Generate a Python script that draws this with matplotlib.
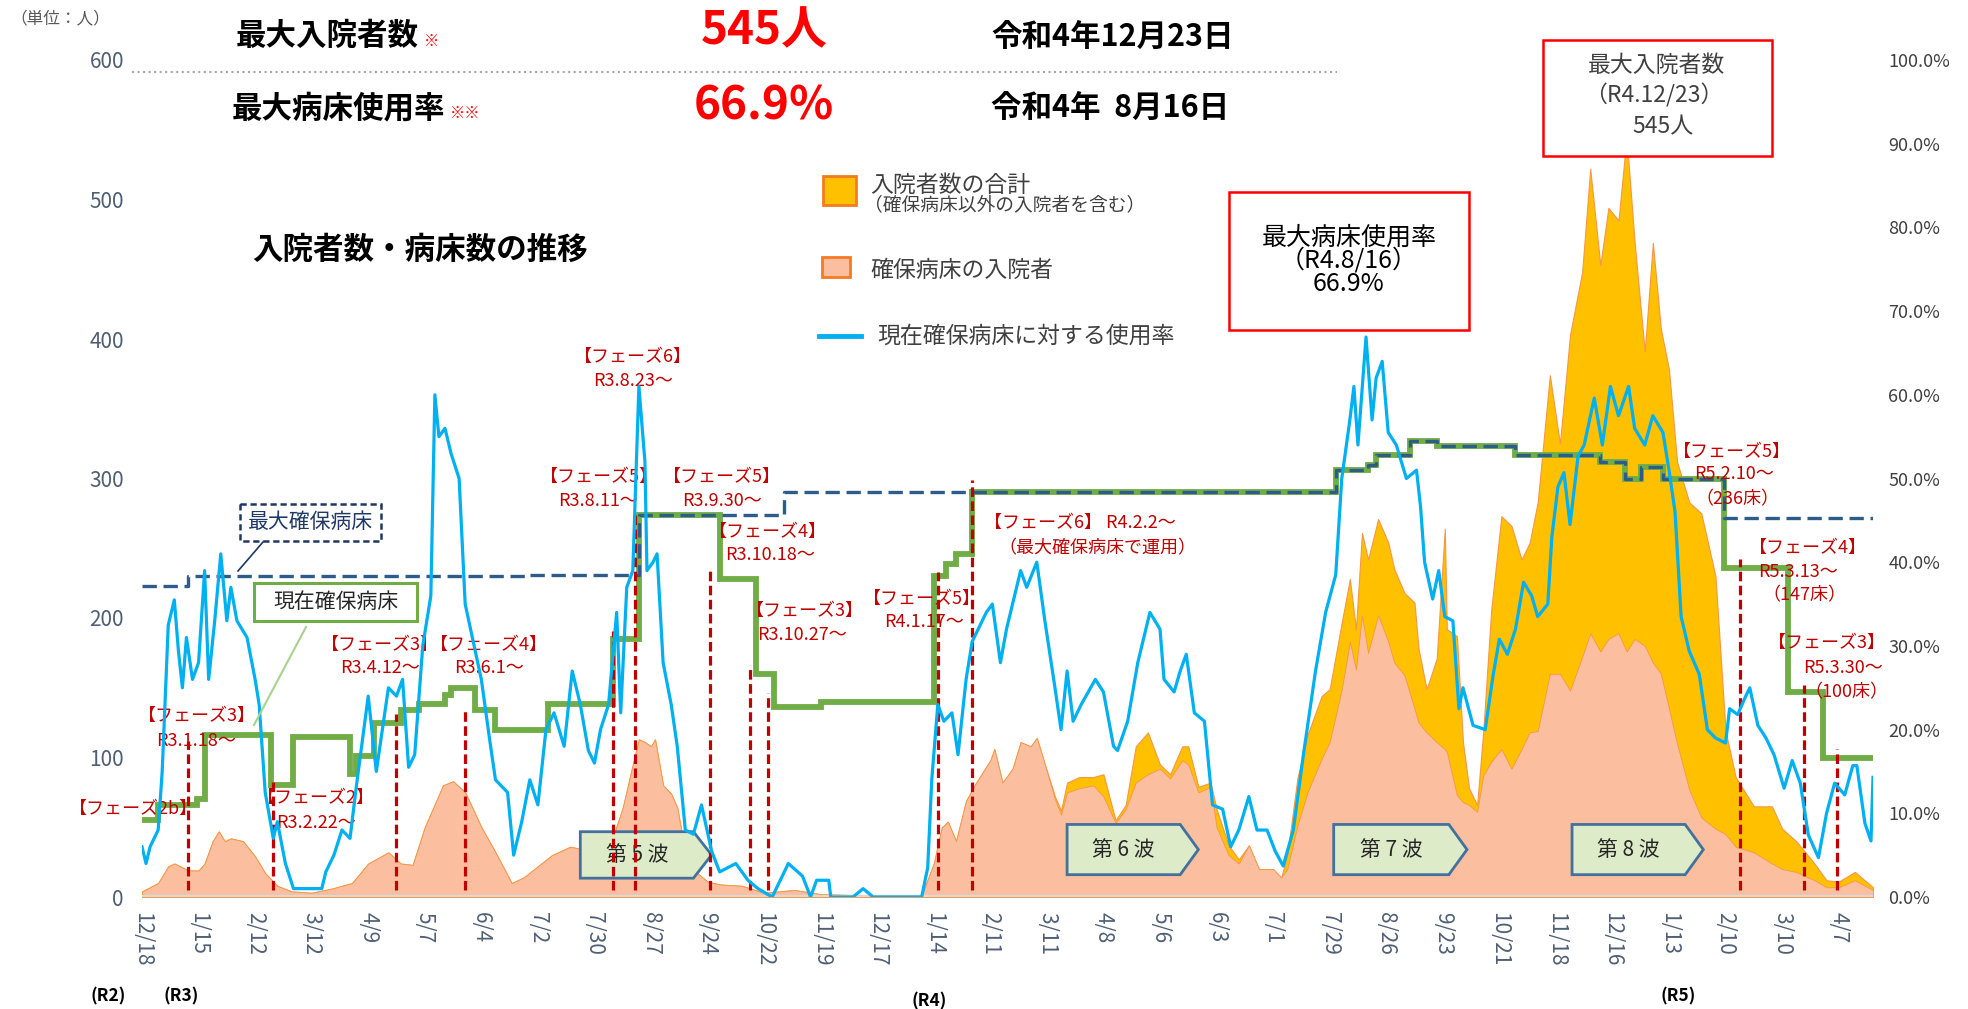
import matplotlib
matplotlib.use("Agg")
import matplotlib.pyplot as plt
import matplotlib.dates as mdates
from matplotlib.patches import Polygon, Rectangle
import pandas as pd

plt.rcParams["font.family"] = ["Noto Sans CJK JP", "DejaVu Sans"]

# ---------------- data ----------------
# inpatients (secured beds) and total inpatients, persons
area_dates = [
    "2020-12-18", "2020-12-26", "2020-12-31", "2021-01-03", "2021-01-10", "2021-01-15",
    "2021-01-18", "2021-01-22", "2021-01-25", "2021-01-28", "2021-01-31", "2021-02-06",
    "2021-02-12", "2021-02-17", "2021-02-23", "2021-03-02", "2021-03-12", "2021-03-22",
    "2021-04-01", "2021-04-09", "2021-04-19", "2021-04-25", "2021-05-01", "2021-05-07",
    "2021-05-16", "2021-05-21", "2021-05-27", "2021-06-04", "2021-06-11", "2021-06-19",
    "2021-06-25", "2021-07-02", "2021-07-09", "2021-07-18", "2021-07-25", "2021-07-30",
    "2021-08-08", "2021-08-13", "2021-08-18", "2021-08-21", "2021-08-24", "2021-08-27",
    "2021-08-29", "2021-09-02", "2021-09-06", "2021-09-09", "2021-09-14", "2021-09-24",
    "2021-09-30", "2021-10-11", "2021-10-22", "2021-11-06", "2021-11-19", "2021-12-17",
    "2022-01-08", "2022-01-14", "2022-01-18", "2022-01-21", "2022-01-25", "2022-01-30",
    "2022-02-04", "2022-02-11", "2022-02-13", "2022-02-17", "2022-02-22", "2022-02-26",
    "2022-03-03", "2022-03-06", "2022-03-10", "2022-03-15", "2022-03-18", "2022-03-21",
    "2022-03-27", "2022-04-03", "2022-04-08", "2022-04-14", "2022-04-19", "2022-04-24",
    "2022-04-30", "2022-05-06", "2022-05-11", "2022-05-17", "2022-05-20", "2022-05-25",
    "2022-05-31", "2022-06-03", "2022-06-09", "2022-06-14", "2022-06-19", "2022-06-24",
    "2022-07-01", "2022-07-05", "2022-07-08", "2022-07-13", "2022-07-18", "2022-07-25",
    "2022-07-29", "2022-08-04", "2022-08-08", "2022-08-11", "2022-08-14", "2022-08-17",
    "2022-08-22", "2022-08-27", "2022-08-30", "2022-09-04", "2022-09-09", "2022-09-11",
    "2022-09-15", "2022-09-20", "2022-09-24", "2022-09-25", "2022-09-30", "2022-10-03",
    "2022-10-06", "2022-10-10", "2022-10-13", "2022-10-17", "2022-10-22", "2022-10-27",
    "2022-11-01", "2022-11-05", "2022-11-09", "2022-11-15", "2022-11-20", "2022-11-25",
    "2022-12-01", "2022-12-05", "2022-12-10", "2022-12-14", "2022-12-19", "2022-12-23",
    "2022-12-27", "2023-01-01", "2023-01-05", "2023-01-09", "2023-01-13", "2023-01-17",
    "2023-01-23", "2023-01-29", "2023-02-05", "2023-02-10", "2023-02-15", "2023-02-24",
    "2023-03-05", "2023-03-10", "2023-03-17", "2023-03-26", "2023-04-01", "2023-04-07",
    "2023-04-15", "2023-04-24",
]
secured = [
    4, 10, 22, 24, 19, 19,
    24, 40, 47, 40, 42, 40,
    29, 17, 8, 4, 3, 6,
    10, 24, 32, 24, 23, 50,
    80, 83, 75, 50, 32, 10,
    14, 22, 30, 36, 34, 33,
    42, 64, 95, 113, 111, 108,
    113, 80, 74, 64, 23, 11,
    9, 8, 3, 5, 2, 1,
    1, 24, 50, 54, 40, 69,
    82, 98, 106, 82, 92, 111,
    108, 114, 95, 70, 59, 75,
    78, 80, 72, 53, 63, 82,
    88, 92, 85, 98, 95, 75,
    79, 50, 30, 24, 37, 20,
    20, 14, 20, 51, 75, 99,
    111, 149, 183, 163, 202, 175,
    202, 183, 168, 159, 135, 125,
    118, 111, 106, 104, 73, 68,
    66, 61, 87, 97, 106, 92,
    106, 118, 119, 160, 160, 148,
    172, 189, 176, 185, 189, 176,
    185, 180, 168, 160, 135, 110,
    77, 57, 49, 45, 36, 32,
    24, 20, 18, 12, 7, 7,
    12, 5,
]
total = [
    4, 10, 22, 24, 19, 19,
    24, 40, 47, 40, 42, 40,
    29, 17, 8, 4, 3, 6,
    10, 24, 32, 24, 23, 50,
    80, 83, 75, 50, 32, 10,
    14, 22, 30, 36, 34, 33,
    42, 64, 95, 113, 111, 108,
    113, 80, 74, 64, 23, 11,
    9, 8, 3, 5, 2, 1,
    1, 24, 50, 54, 40, 69,
    82, 98, 106, 82, 92, 111,
    108, 114, 95, 72, 62, 82,
    86, 86, 88, 55, 66, 108,
    118, 95, 88, 108, 108, 79,
    82, 63, 37, 27, 37, 20,
    20, 14, 30, 85, 116, 144,
    149, 197, 228, 192, 261, 242,
    271, 254, 235, 218, 211, 178,
    149, 171, 264, 192, 187, 111,
    78, 66, 118, 206, 273, 266,
    242, 254, 283, 374, 325, 403,
    448, 522, 453, 494, 485, 545,
    469, 391, 469, 407, 378, 312,
    283, 275, 230, 119, 86, 65,
    65, 49, 40, 24, 12, 11,
    18, 7,
]

# usage rate of current secured beds, %
rate_dates = [
    "2020-12-18", "2020-12-20", "2020-12-22", "2020-12-26", "2020-12-28", "2020-12-31",
    "2021-01-03", "2021-01-05", "2021-01-07", "2021-01-09", "2021-01-12", "2021-01-15",
    "2021-01-18", "2021-01-20", "2021-01-23", "2021-01-26", "2021-01-29", "2021-01-31",
    "2021-02-03", "2021-02-08", "2021-02-12", "2021-02-14", "2021-02-17", "2021-02-21",
    "2021-02-23", "2021-02-27", "2021-03-03", "2021-03-17", "2021-03-19", "2021-03-23",
    "2021-03-27", "2021-03-31", "2021-04-03", "2021-04-09", "2021-04-13", "2021-04-19",
    "2021-04-23", "2021-04-26", "2021-04-29", "2021-05-02", "2021-05-06", "2021-05-10",
    "2021-05-12", "2021-05-14", "2021-05-17", "2021-05-20", "2021-05-24", "2021-05-27",
    "2021-06-04", "2021-06-08", "2021-06-11", "2021-06-17", "2021-06-20", "2021-06-24",
    "2021-06-28", "2021-07-02", "2021-07-06", "2021-07-10", "2021-07-15", "2021-07-19",
    "2021-07-23", "2021-07-27", "2021-07-30", "2021-08-02", "2021-08-06", "2021-08-10",
    "2021-08-12", "2021-08-15", "2021-08-18", "2021-08-21", "2021-08-24", "2021-08-25",
    "2021-08-28", "2021-08-30", "2021-09-02", "2021-09-06", "2021-09-09", "2021-09-13",
    "2021-09-17", "2021-09-21", "2021-09-26", "2021-09-30", "2021-10-08", "2021-10-14",
    "2021-10-19", "2021-10-26", "2021-11-03", "2021-11-10", "2021-11-14", "2021-11-17",
    "2021-11-23", "2021-11-24", "2021-12-05", "2021-12-10", "2021-12-15", "2022-01-08",
    "2022-01-11", "2022-01-13", "2022-01-16", "2022-01-19", "2022-01-23", "2022-01-26",
    "2022-01-30", "2022-02-02", "2022-02-05", "2022-02-09", "2022-02-12", "2022-02-16",
    "2022-02-19", "2022-02-26", "2022-03-01", "2022-03-06", "2022-03-10", "2022-03-15",
    "2022-03-18", "2022-03-21", "2022-03-24", "2022-03-28", "2022-04-04", "2022-04-08",
    "2022-04-13", "2022-04-15", "2022-04-20", "2022-04-25", "2022-04-29", "2022-05-01",
    "2022-05-06", "2022-05-08", "2022-05-13", "2022-05-16", "2022-05-19", "2022-05-23",
    "2022-05-28", "2022-06-01", "2022-06-06", "2022-06-10", "2022-06-14", "2022-06-19",
    "2022-06-23", "2022-06-28", "2022-07-02", "2022-07-06", "2022-07-11", "2022-07-16",
    "2022-07-22", "2022-07-27", "2022-08-01", "2022-08-04", "2022-08-08", "2022-08-10",
    "2022-08-12", "2022-08-16", "2022-08-19", "2022-08-21", "2022-08-24", "2022-08-27",
    "2022-08-31", "2022-09-05", "2022-09-10", "2022-09-12", "2022-09-14", "2022-09-18",
    "2022-09-21", "2022-09-24", "2022-09-28", "2022-10-01", "2022-10-03", "2022-10-08",
    "2022-10-14", "2022-10-18", "2022-10-21", "2022-10-25", "2022-10-29", "2022-11-02",
    "2022-11-06", "2022-11-09", "2022-11-14", "2022-11-16", "2022-11-19", "2022-11-22",
    "2022-11-25", "2022-11-29", "2022-12-02", "2022-12-07", "2022-12-11", "2022-12-15",
    "2022-12-19", "2022-12-24", "2022-12-27", "2023-01-01", "2023-01-05", "2023-01-10",
    "2023-01-13", "2023-01-16", "2023-01-19", "2023-01-23", "2023-01-28", "2023-02-01",
    "2023-02-05", "2023-02-10", "2023-02-12", "2023-02-16", "2023-02-20", "2023-02-22",
    "2023-02-26", "2023-03-02", "2023-03-06", "2023-03-11", "2023-03-15", "2023-03-19",
    "2023-03-23", "2023-03-28", "2023-04-01", "2023-04-05", "2023-04-10", "2023-04-14",
    "2023-04-16", "2023-04-20", "2023-04-23", "2023-04-24",
]
rate = [
    6, 4, 6, 8, 15, 32.5,
    35.5, 29.5, 25, 31, 26, 28,
    39, 26, 33, 41, 33, 37,
    33, 31, 26, 23, 12.5, 7,
    9, 4, 1, 1, 3, 5,
    8, 7, 13, 24, 15, 25,
    24, 26, 15.5, 17, 30, 36,
    60, 55, 56, 53, 50, 35,
    26, 19, 14, 12.5, 5, 9,
    14, 11, 20, 22, 18, 27,
    23, 17.5, 16, 20, 23, 34,
    22, 37, 39, 61, 52, 39,
    40, 41, 28, 23, 18, 8,
    7.5, 11, 5.5, 3, 4, 2,
    1, 0, 4, 2.5, 0, 2,
    2, 0, 0, 1, 0, 0,
    3.5, 14, 23, 21, 22, 17,
    26, 30.5, 32, 34, 35, 28,
    32, 39, 37, 40, 33, 25,
    20, 27, 21, 23, 26, 24.5,
    18, 17.5, 21, 28, 32, 34,
    32, 26, 24.5, 27, 29, 22,
    21, 11, 10.5, 6, 8, 12,
    8, 8, 5.5, 3.7, 8, 17,
    27, 34, 38.5, 50, 57, 61,
    54, 66.9, 57, 62, 64, 55.5,
    54, 50, 51, 46.6, 40, 35.6,
    39, 33.5, 33, 22.5, 25, 20.5,
    20, 26.6, 30.8, 29, 32, 37.6,
    36, 33.5, 35, 43, 49, 50.7,
    44.5, 52.7, 54, 59.6, 54, 61,
    57.5, 61, 56, 54, 57.5, 55.5,
    51, 46, 33.5, 29.4, 26.6, 20,
    19, 18.4, 22.5, 21.8, 24, 25,
    20.5, 19, 17, 13, 16.3, 13.6,
    7.4, 4.7, 10, 13.6, 12.2, 15.7,
    15.7, 8.8, 6.7, 14.3,
]

# current secured beds (step)
bed_dates = [
    "2020-12-18", "2020-12-26", "2021-01-14", "2021-01-18", "2021-02-20", "2021-03-03",
    "2021-03-31", "2021-04-03", "2021-04-12", "2021-04-25", "2021-05-04", "2021-05-17",
    "2021-05-20", "2021-06-01", "2021-06-11", "2021-07-07", "2021-08-08", "2021-08-21",
    "2021-09-30", "2021-10-18", "2021-10-27", "2021-11-19", "2022-01-14", "2022-01-20",
    "2022-01-25", "2022-02-02", "2022-08-01", "2022-08-17", "2022-08-21", "2022-09-07",
    "2022-09-20", "2022-10-29", "2022-12-10", "2022-12-22", "2022-12-30", "2023-01-10",
    "2023-02-09", "2023-03-13", "2023-03-30", "2023-04-24",
]
beds = [
    55, 66, 70, 116, 80, 115,
    88, 101, 125, 134, 138, 145,
    150, 134, 120, 138, 185, 274,
    228, 160, 136, 140, 230, 239,
    246, 290, 306, 310, 317, 327,
    323, 317, 312, 300, 308, 300,
    236, 147, 100, 100,
]

# maximum secured beds (step)
max_dates = [
    "2020-12-18", "2021-01-10", "2021-06-28", "2021-08-21", "2021-11-01", "2022-08-01",
    "2022-08-17", "2022-08-21", "2022-09-07", "2022-09-20", "2022-10-29", "2022-12-10",
    "2022-12-22", "2022-12-30", "2023-01-10", "2023-02-09", "2023-04-24",
]
max_beds = [
    223, 230, 231, 274, 290, 306,
    310, 317, 327, 323, 317, 312,
    300, 308, 300, 272, 272,
]

# phase change markers (red dashed)
phase_line_dates = [
    "2021-01-10", "2021-02-21", "2021-04-23", "2021-05-27", "2021-08-08", "2021-08-19",
    "2021-09-25", "2021-10-15", "2021-10-24", "2022-01-16", "2022-02-02", "2023-02-17",
    "2023-03-21", "2023-04-06",
]
phase_line_tops = [112, 85, 131, 135, 191, 275, 236, 166, 146, 233, 299, 242, 152, 106]

phase_notes = [
    ("2020-12-14", 63, "【フェーズ2b】"),
    ("2021-01-14", 130, "【フェーズ3】"), ("2021-01-14", 112, "R3.1.18～"),
    ("2021-03-14", 71, "【フェーズ2】"), ("2021-03-14", 53, "R3.2.22～"),
    ("2021-04-15", 181, "【フェーズ3】"), ("2021-04-15", 164, "R3.4.12～"),
    ("2021-06-08", 181, "【フェーズ4】"), ("2021-06-08", 164, "R3.6.1～"),
    ("2021-08-18", 387, "【フェーズ6】"), ("2021-08-18", 370, "R3.8.23～"),
    ("2021-08-01", 301, "【フェーズ5】"), ("2021-08-01", 284, "R3.8.11～"),
    ("2021-10-01", 301, "【フェーズ5】"), ("2021-10-01", 284, "R3.9.30～"),
    ("2021-10-24", 262, "【フェーズ4】"), ("2021-10-25", 245, "R3.10.18～"),
    ("2021-11-11", 205, "【フェーズ3】"), ("2021-11-10", 188, "R3.10.27～"),
    ("2022-01-08", 214, "【フェーズ5】"), ("2022-01-09", 197, "R4.1.17～"),
    ("2023-02-13", 319, "【フェーズ5】"), ("2023-02-14", 303, "R5.2.10～"),
    ("2023-02-16", 285, "（236床）"),
    ("2023-03-23", 250, "【フェーズ4】"), ("2023-03-18", 233, "R5.3.13～"),
    ("2023-03-21", 216, "（147床）"),
    ("2023-04-01", 182, "【フェーズ3】"), ("2023-04-09", 164, "R5.3.30～"),
    ("2023-04-11", 147, "（100床）"),
]

wave_labels = ["第 5 波", "第 6 波", "第 7 波", "第 8 波"]
wave_start = ["2021-07-23", "2022-03-21", "2022-07-31", "2022-11-26"]
wave_body_end = ["2021-09-17", "2022-05-16", "2022-09-26", "2023-01-21"]
wave_tip = ["2021-09-26", "2022-05-25", "2022-10-05", "2023-01-30"]

tick_dates = pd.date_range("2020-12-18", "2023-04-07", freq="28D")

# ---------------- colours ----------------
C_YELLOW = "#FFC000"
C_SALMON = "#FBBF9F"
C_ORANGE = "#F79646"
C_BLUE = "#00B0F0"
C_GREEN = "#70AD47"
C_NAVY = "#2E5C8A"
C_RED = "#C00000"
C_TICK = "#4F5F75"

W, H = 1968, 1009
fig = plt.figure(figsize=(W / 100, H / 100), dpi=100)
ax = fig.add_axes([142 / W, 1 - 897 / H, (1873 - 142) / W, (897 - 60) / H])
ax2 = ax.twinx()

ad = pd.to_datetime(area_dates)
ax.fill_between(ad, 0, total, facecolor=C_YELLOW, edgecolor=C_ORANGE, lw=0.8, zorder=1)
ax.fill_between(ad, 0, secured, facecolor=C_SALMON, edgecolor=C_ORANGE, lw=0.6, zorder=1.5)
ax.axhline(0, color="#D9D9D9", lw=3, zorder=2)

ax.step(pd.to_datetime(bed_dates), beds, where="post", color=C_GREEN, lw=4.2,
        solid_joinstyle="miter", zorder=3)
ax.step(pd.to_datetime(max_dates), max_beds, where="post", color=C_NAVY, lw=2.4,
        linestyle=(0, (4.3, 2)), zorder=3.5)

ax.vlines(pd.to_datetime(phase_line_dates), 5, phase_line_tops, colors=C_RED, lw=2.3,
          linestyles=(0, (3, 1.4)), zorder=5)

# wave arrow boxes
for lab, s, b, t in zip(wave_labels, wave_start, wave_body_end, wave_tip):
    x0, xb, xt = mdates.date2num(pd.to_datetime([s, b, t]))
    y0, y1 = (13.5, 46.8) if lab == "第 5 波" else (16, 52)
    ym = (y0 + y1) / 2
    ax.add_patch(Polygon([(x0, y0), (xb, y0), (xt, ym), (xb, y1), (x0, y1)], closed=True,
                         facecolor="#DDEBC9", edgecolor="#41719C", lw=2, zorder=4))
    ax.text((x0 + xb) / 2, ym, lab, ha="center", va="center", fontsize=15,
            color="#262626", zorder=4.5)

for d, y, s in phase_notes:
    ax.text(pd.Timestamp(d), y, s, ha="center", va="center", fontsize=13,
            color=C_RED, zorder=6, clip_on=False)
ax.text(pd.Timestamp("2022-02-08"), 268, "【フェーズ6】 R4.2.2～", ha="left", va="center",
        fontsize=13, color=C_RED, zorder=6)
ax.text(pd.Timestamp("2022-02-15"), 250, "（最大確保病床で運用）", ha="left", va="center",
        fontsize=13, color=C_RED, zorder=6)

ax2.plot(pd.to_datetime(rate_dates), rate, color=C_BLUE, lw=2.3, zorder=7)

# axes styling
ax.set_xlim(pd.Timestamp("2020-12-18"), pd.Timestamp("2023-04-24"))
ax.set_ylim(0, 600)
ax2.set_ylim(0, 100)
ax.set_xticks(tick_dates)
ax.set_xticklabels([f"{t.month}/{t.day}" for t in tick_dates], rotation=270,
                   fontsize=15, color=C_TICK)
ax.set_yticks(range(0, 601, 100))
ax.set_yticklabels([str(v) for v in range(0, 601, 100)], fontsize=15, color=C_TICK)
ax2.set_yticks(range(0, 101, 10))
ax2.set_yticklabels([f"{v:.1f}%" for v in range(0, 101, 10)], fontsize=13, color="#404040")
ax.tick_params(axis="x", length=0, pad=11)
ax.tick_params(axis="y", length=0, pad=13)
ax2.tick_params(axis="y", length=0, pad=11)
for a in (ax, ax2):
    for sp in a.spines.values():
        sp.set_visible(False)
ax.set_zorder(1)
ax2.set_zorder(2)
ax.patch.set_visible(False)

# ---------------- overlay in pixel coords ----------------
ov = fig.add_axes([0, 0, 1, 1], zorder=5)
ov.set_xlim(0, W)
ov.set_ylim(H, 0)
ov.axis("off")

ov.text(10, 19, "（単位：人）", fontsize=12, color="#595959", ha="left", va="center")
ov.text(236, 36, "最大入院者数", fontsize=22, fontweight="bold", ha="left", va="center")
ov.text(424, 41, "※", fontsize=11, color="red", ha="left", va="center")
ov.text(764, 31, "545人", fontsize=33, fontweight="bold", color="red", ha="center", va="center")
ov.text(991, 37, "令和4年12月23日", fontsize=22, fontweight="bold", ha="left", va="center")
ov.plot([132, 1337], [72, 72], color="#A6A6A6", lw=1.5, linestyle=":")
ov.text(232, 108, "最大病床使用率", fontsize=22, fontweight="bold", ha="left", va="center")
ov.text(450, 113, "※※", fontsize=11, color="red", ha="left", va="center")
ov.text(764, 106, "66.9%", fontsize=33, fontweight="bold", color="red", ha="center", va="center")
ov.text(991, 108, "令和4年  8月16日", fontsize=22, fontweight="bold", ha="left", va="center")

ov.text(252, 250, "入院者数・病床数の推移", fontsize=22, fontweight="bold", ha="left", va="center")

# legend
ov.add_patch(Rectangle((823, 176), 33, 29, facecolor=C_YELLOW, edgecolor="#F47B20", lw=2))
ov.text(870, 185, "入院者数の合計", fontsize=16.5, color="#404040", ha="left", va="center")
ov.text(864, 206, "（確保病床以外の入院者を含む）", fontsize=13.5, color="#404040",
        ha="left", va="center")
ov.add_patch(Rectangle((822, 257), 28, 20, facecolor=C_SALMON, edgecolor="#F47B20", lw=2))
ov.text(870, 270, "確保病床の入院者", fontsize=16.5, color="#404040", ha="left", va="center")
ov.plot([819, 861], [336, 336], color=C_BLUE, lw=3.5)
ov.text(877, 336, "現在確保病床に対する使用率", fontsize=16.5, color="#404040",
        ha="left", va="center")

# red callout boxes
ov.add_patch(Rectangle((1229, 192), 240, 138, fill=False, edgecolor="red", lw=1.8))
ov.text(1349, 238, "最大病床使用率", fontsize=18, ha="center", va="center")
ov.text(1349, 261, "（R4.8/16）", fontsize=18, ha="center", va="center")
ov.text(1349, 284, "66.9%", fontsize=18, ha="center", va="center")
ov.add_patch(Rectangle((1543, 40), 229, 116, facecolor="white", edgecolor="red", lw=1.8))
ov.text(1657, 65, "最大入院者数", fontsize=16.5, color="#404040", ha="center", va="center")
ov.text(1654, 95, "（R4.12/23）", fontsize=16.5, color="#404040", ha="center", va="center")
ov.text(1663, 127, "545人", fontsize=16.5, color="#404040", ha="center", va="center")

# line callouts
ov.plot([263, 238], [542, 571], color="#1F3864", lw=1.2)
ov.add_patch(Rectangle((240, 504), 141, 37, facecolor="white", edgecolor="#1F3864",
                       lw=1.8, linestyle=(0, (2.5, 1.5))))
ov.text(310.5, 522.5, "最大確保病床", fontsize=15, color="#1F3864", ha="center", va="center")
ov.plot([306, 254], [627, 725], color="#A9D18E", lw=1.5)
ov.add_patch(Rectangle((254, 583), 163, 38, facecolor="white", edgecolor=C_GREEN, lw=2.2))
ov.text(335.5, 602, "現在確保病床", fontsize=15, color="#262626", ha="center", va="center")

# era labels
for x, y, s in [(108, 996, "(R2)"), (181, 996, "(R3)"), (929, 1001, "(R4)"), (1678, 996, "(R5)")]:
    ov.text(x, y, s, fontsize=12.5, fontweight="bold", ha="center", va="center")

fig.savefig("out.png", dpi=100, facecolor="white")
